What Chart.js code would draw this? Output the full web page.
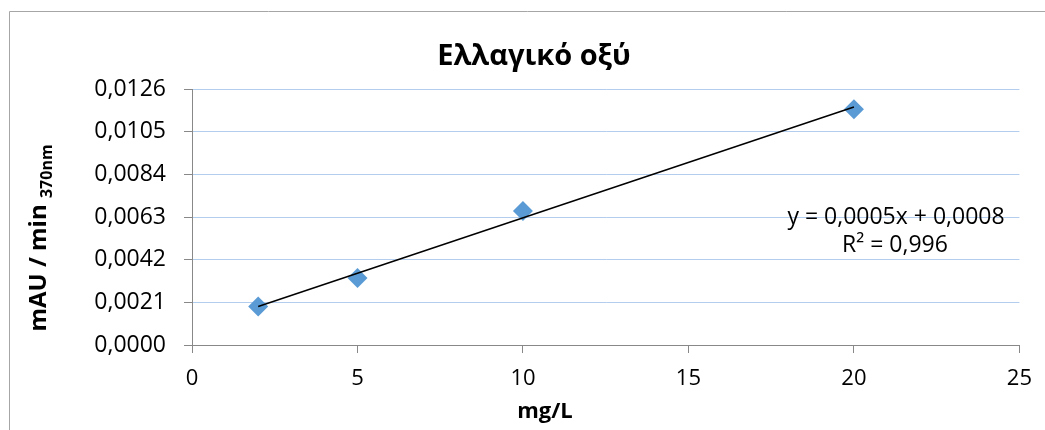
<!DOCTYPE html>
<html>
<head>
<meta charset="utf-8">
<script src="https://cdn.jsdelivr.net/npm/chart.js@4/dist/chart.umd.min.js"></script>
<style>
html,body{margin:0;padding:0;background:#fff;}
#c{display:block;}
</style>
</head>
<body>
<canvas id="c" width="1045" height="430"></canvas>
<script>
// ---- data ----
const chartTitle = "Ελλαγικό οξύ";
const xAxisTitle = "mg/L";
const yAxisTitleMain = "mAU / min ";
const yAxisTitleSub = "370nm";
const xValues = [2, 5, 10, 20];
const yValues = [0.0019, 0.0033, 0.0066, 0.0116];
const xTicks = [0, 5, 10, 15, 20, 25];
const yTicks = [0, 0.0021, 0.0042, 0.0063, 0.0084, 0.0105, 0.0126];
const equationLines = ["y = 0,0005x + 0,0008", "R² = 0,996"];

// least-squares trendline derived from the data
const n = xValues.length;
const mx = xValues.reduce((a, b) => a + b, 0) / n;
const my = yValues.reduce((a, b) => a + b, 0) / n;
let sxy = 0, sxx = 0;
for (let i = 0; i < n; i++) { sxy += (xValues[i] - mx) * (yValues[i] - my); sxx += (xValues[i] - mx) ** 2; }
const slope = sxy / sxx, intercept = my - slope * mx;
const xMin = Math.min(...xValues), xMax = Math.max(...xValues);
const trend = [{x: xMin, y: intercept + slope * xMin}, {x: xMax, y: intercept + slope * xMax}];

const points = xValues.map((x, i) => ({x, y: yValues[i]}));
const FONT = "'Open Sans', 'DejaVu Sans', sans-serif";

const decor = {
  id: 'decor',
  afterDraw(chart) {
    const ctx = chart.ctx;
    ctx.save();
    // outer border
    ctx.strokeStyle = '#a6a6a6';
    ctx.lineWidth = 1;
    ctx.beginPath();
    ctx.moveTo(9.5, 430);
    ctx.lineTo(9.5, 11.5);
    ctx.lineTo(1045, 11.5);
    ctx.stroke();
    // title
    ctx.fillStyle = '#000';
    ctx.font = "bold 29px " + FONT;
    ctx.textAlign = 'center';
    ctx.textBaseline = 'alphabetic';
    ctx.fillText(chartTitle, 534, 65);
    // x-axis title
    ctx.font = "bold 22px " + FONT;
    ctx.fillText(xAxisTitle, 545, 418);
    // equation
    ctx.font = "23px " + FONT;
    ctx.fillText(equationLines[0], 896, 224);
    ctx.fillText(equationLines[1], 895, 252);
    // y-axis title with subscript
    ctx.save();
    ctx.translate(46, 238);
    ctx.rotate(-Math.PI / 2);
    ctx.font = "bold 24px " + FONT;
    const w1 = ctx.measureText(yAxisTitleMain).width;
    ctx.font = "bold 16px " + FONT;
    const w2 = ctx.measureText(yAxisTitleSub).width;
    const start = -(w1 + w2) / 2;
    ctx.textAlign = 'left';
    ctx.font = "bold 24px " + FONT;
    ctx.fillText(yAxisTitleMain, start, 0);
    ctx.font = "bold 16px " + FONT;
    ctx.fillText(yAxisTitleSub, start + w1, 6);
    ctx.restore();
    ctx.restore();
  }
};

new Chart(document.getElementById('c'), {
  type: 'scatter',
  data: {
    datasets: [
      {
        label: 'trend',
        type: 'line',
        data: trend,
        borderColor: '#000',
        borderWidth: 1.5,
        pointRadius: 0,
        fill: false,
        order: 0
      },
      {
        label: chartTitle,
        data: points,
        pointStyle: 'rectRot',
        pointRadius: 10,
        pointHoverRadius: 10,
        backgroundColor: '#5b9bd5',
        borderColor: '#5b9bd5',
        borderWidth: 0,
        order: 1
      }
    ]
  },
  options: {
    responsive: false,
    animation: false,
    events: [],
    layout: {padding: {left: 0, top: 89, right: 25, bottom: 0}},
    plugins: {legend: {display: false}, tooltip: {enabled: false}, title: {display: false}},
    scales: {
      x: {
        type: 'linear',
        min: 0, max: 25,
        afterBuildTicks: s => { s.ticks = xTicks.map(v => ({value: v})); },
        afterFit: s => { s.height = 85; },
        grid: {drawOnChartArea: false, color: '#888', tickColor: '#888', tickLength: 8},
        border: {color: '#888', width: 1},
        ticks: {color: '#000', font: {family: FONT, size: 22}, padding: 13, maxRotation: 0, autoSkip: false,
          callback: v => String(v)}
      },
      y: {
        type: 'linear',
        min: 0, max: 0.0126,
        afterBuildTicks: s => { s.ticks = yTicks.map(v => ({value: v})); },
        afterFit: s => { s.width = 192; },
        grid: {color: '#b3cdef', tickColor: '#888', tickLength: 8, lineWidth: 1},
        border: {color: '#888', width: 1},
        ticks: {color: '#000', font: {family: FONT, size: 23}, padding: 18, autoSkip: false,
          callback: v => v.toFixed(4).replace('.', ',')}
      }
    }
  },
  plugins: [decor]
});
</script>
</body>
</html>
